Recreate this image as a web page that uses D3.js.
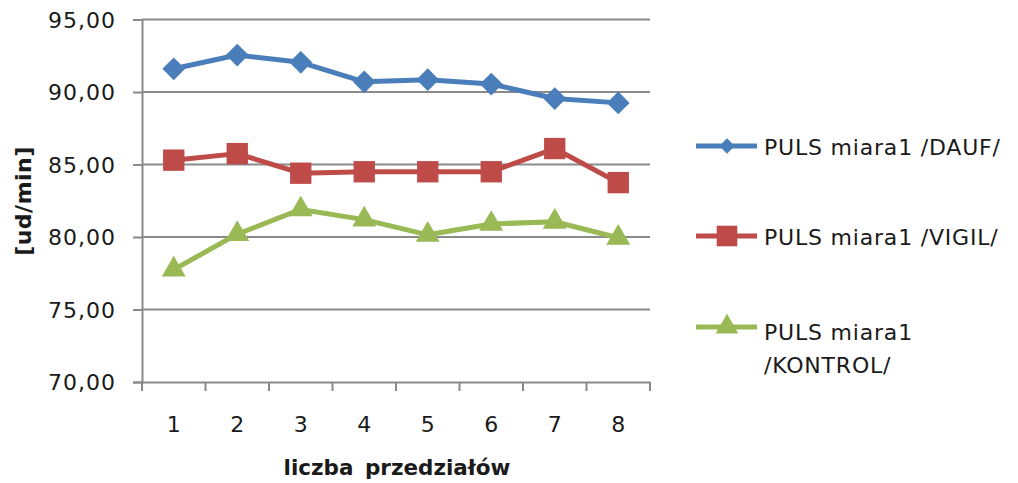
<!DOCTYPE html>
<html>
<head>
<meta charset="utf-8">
<script src="https://cdn.jsdelivr.net/npm/d3@7"></script>
<style>
  body { margin: 0; background: #fff; }
  text { font-family: "DejaVu Sans", sans-serif; fill: #1a1a1a; }
</style>
</head>
<body>
<div id="wrapper"></div>
<script>
// data
const categories = [1, 2, 3, 4, 5, 6, 7, 8];
const dauf = [91.6, 92.55, 92.05, 90.7, 90.85, 90.55, 89.55, 89.25];
const vigil = [85.3, 85.75, 84.4, 84.5, 84.5, 84.5, 86.1, 83.75];
const kontrol = [77.75, 80.2, 81.9, 81.2, 80.15, 80.9, 81.05, 79.95];
const yTicks = [70, 75, 80, 85, 90, 95];

const seriesNames = ["PULS miara1 /DAUF/", "PULS miara1 /VIGIL/", "PULS miara1 /KONTROL/"];
const series = [
  { name: seriesNames[0], values: dauf, color: "#4a7ebb", symbol: d3.symbolDiamond2, size: 330, legendSize: 150 },
  { name: seriesNames[1], values: vigil, color: "#be4b48", symbol: d3.symbolSquare2, size: 580, legendSize: 540 },
  { name: seriesNames[2], values: kontrol, color: "#98b954", symbol: d3.symbolTriangle2, size: 410, legendSize: 370 },
];

const width = 1018, height = 483;
const plot = { left: 142, right: 650, top: 19.5, bottom: 382 };

const svg = d3.select("#wrapper").append("svg")
    .attr("width", width)
    .attr("height", height);

const x = d3.scaleBand().domain(categories).range([plot.left, plot.right]);
const y = d3.scaleLinear().domain([70, 95]).range([plot.bottom, plot.top]);

// gridlines
svg.append("g")
  .selectAll("line")
  .data(yTicks.slice(1))
  .join("line")
    .attr("x1", plot.left).attr("x2", plot.right)
    .attr("y1", d => y(d)).attr("y2", d => y(d))
    .attr("stroke", "#8a8a8a").attr("stroke-width", 2);

// y axis
const yAxis = svg.append("g")
    .attr("transform", `translate(${plot.left},0)`)
    .call(d3.axisLeft(y).tickValues(yTicks).tickSize(9).tickPadding(17)
      .tickFormat(d => d3.format(".2f")(d).replace(".", ",")));
yAxis.select(".domain").attr("stroke", "#8a8a8a").attr("stroke-width", 2);
yAxis.selectAll(".tick line").attr("stroke", "#8a8a8a").attr("stroke-width", 2);
yAxis.selectAll(".tick text").style("font-size", "22px").style("letter-spacing", "1px")
    .attr("fill", "#1a1a1a").attr("dy", "0.36em");

// x axis
const xAxis = svg.append("g")
    .attr("transform", `translate(0,${plot.bottom})`)
    .call(d3.axisBottom(x).tickSize(0).tickPadding(34));
xAxis.select(".domain").attr("stroke", "#8a8a8a").attr("stroke-width", 2);
xAxis.selectAll(".tick text").style("font-size", "22px").attr("fill", "#1a1a1a");
// boundary tick marks between categories
xAxis.append("g")
  .selectAll("line")
  .data(categories.concat([null]))
  .join("line")
    .attr("x1", (d, i) => plot.left + i * x.step())
    .attr("x2", (d, i) => plot.left + i * x.step())
    .attr("y1", 0).attr("y2", 9)
    .attr("stroke", "#8a8a8a").attr("stroke-width", 2);

// axis titles
svg.append("text")
    .attr("x", 397).attr("y", 475)
    .attr("text-anchor", "middle")
    .style("font-size", "21.5px").style("font-weight", "bold")
    .style("word-spacing", "4px")
    .text("liczba przedziałów");

svg.append("text")
    .attr("transform", "translate(31,201) rotate(-90)")
    .attr("text-anchor", "middle")
    .style("font-size", "22px").style("font-weight", "bold")
    .style("letter-spacing", "0.5px")
    .text("[ud/min]");

// lines
const line = d3.line()
    .x((d, i) => x(categories[i]) + x.bandwidth() / 2)
    .y(d => y(d));

const g = svg.append("g");
series.forEach(s => {
  g.append("path")
      .attr("d", line(s.values))
      .attr("fill", "none")
      .attr("stroke", s.color)
      .attr("stroke-width", 5)
      .attr("stroke-linejoin", "round");
  g.append("g")
    .selectAll("path")
    .data(s.values)
    .join("path")
      .attr("d", d3.symbol().type(s.symbol).size(s.size))
      .attr("transform", (d, i) => `translate(${x(categories[i]) + x.bandwidth() / 2},${y(d)})`)
      .attr("fill", s.color);
});

// legend
const legendY = [146, 236, 327];
const legend = svg.append("g");
series.forEach((s, i) => {
  const row = legend.append("g").attr("transform", `translate(696,${legendY[i]})`);
  row.append("line")
      .attr("x1", 0).attr("x2", 61)
      .attr("stroke", s.color).attr("stroke-width", 5);
  row.append("path")
      .attr("d", d3.symbol().type(s.symbol).size(s.legendSize))
      .attr("transform", "translate(31,0)")
      .attr("fill", s.color);
  const label = row.append("text")
      .attr("x", 68)
      .style("font-size", "22px")
      .style("letter-spacing", "0.8px");
  if (i === 2) {
    label.attr("y", 13);
    label.append("tspan").attr("x", 68).text("PULS miara1");
    label.append("tspan").attr("x", 68).attr("dy", 33).text("/KONTROL/");
  } else {
    label.attr("y", 9).text(s.name);
  }
});
</script>
</body>
</html>
